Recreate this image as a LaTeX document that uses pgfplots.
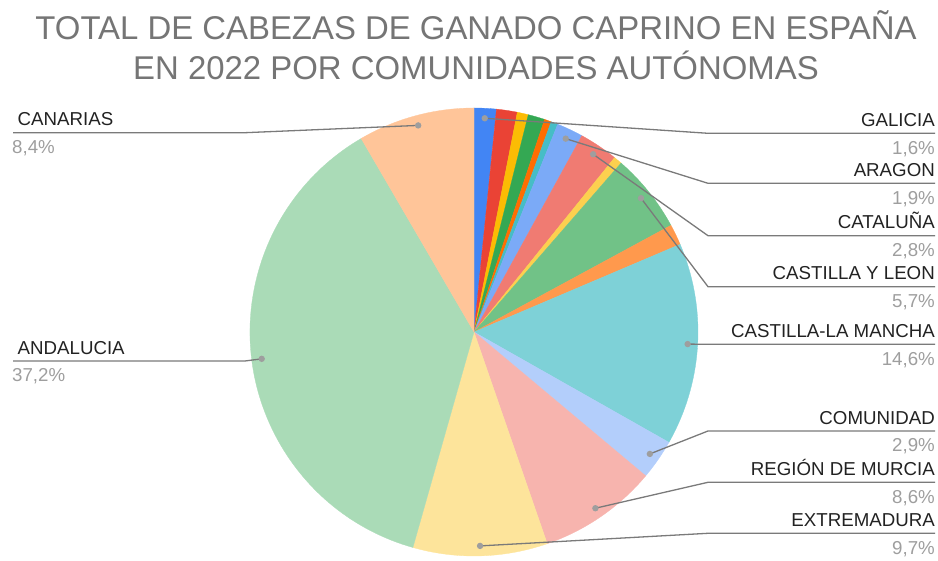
\documentclass[border=0pt]{standalone}
\usepackage{pgfplots}
\pgfplotsset{compat=1.18}
\usepackage{pgfplotstable}
\usepackage{fontspec}
\setmainfont{Liberation Sans}

\definecolor{c1}{HTML}{4285F4}
\definecolor{c2}{HTML}{EA4335}
\definecolor{c3}{HTML}{FBBC04}
\definecolor{c4}{HTML}{34A853}
\definecolor{c5}{HTML}{FF6D01}
\definecolor{c6}{HTML}{46BDC6}
\definecolor{c7}{HTML}{7BAAF7}
\definecolor{c8}{HTML}{F07B72}
\definecolor{c9}{HTML}{FCD04F}
\definecolor{c10}{HTML}{71C287}
\definecolor{c11}{HTML}{FF994D}
\definecolor{c12}{HTML}{7ED1D7}
\definecolor{c13}{HTML}{B3CEFB}
\definecolor{c14}{HTML}{F7B4AE}
\definecolor{c15}{HTML}{FDE49B}
\definecolor{c16}{HTML}{AADBB7}
\definecolor{c17}{HTML}{FFC599}
\definecolor{titlecol}{HTML}{757575}
\definecolor{leadcol}{HTML}{7A7A7A}
\definecolor{dotcol}{HTML}{9E9E9E}
\definecolor{namecol}{HTML}{222222}
\definecolor{pctcol}{HTML}{9E9E9E}

% slices, clockwise from 12 o'clock (percent)
\pgfplotstableread[col sep=comma]{
val,col
1.6,c1
1.5,c2
0.8,c3
1.2,c4
0.5,c5
0.5,c6
1.9,c7
2.8,c8
0.6,c9
5.7,c10
1.5,c11
14.6,c12
2.9,c13
8.6,c14
9.7,c15
37.2,c16
8.4,c17
}\slices

% labelled slices: slice row, name, side (1 right, 0 left), leader line y (px from top)
\pgfplotstableread[col sep=comma]{
slice,name,side,ly
0,GALICIA,1,133.3
6,ARAGON,1,183.3
7,CATALUÑA,1,235.7
9,CASTILLA Y LEON,1,286.7
11,CASTILLA-LA MANCHA,1,344.3
12,COMUNIDAD,1,431
13,REGIÓN DE MURCIA,1,482.3
14,EXTREMADURA,1,533.3
15,ANDALUCIA,0,361
16,CANARIAS,0,132.7
}\labels

\begin{document}
\begin{tikzpicture}
\begin{axis}[
  hide axis, x=1pt, y=1pt,
  xmin=0, xmax=938, ymin=0, ymax=557,
  clip=false, scale only axis,
]
\pgfplotsextra{%
  \path (axis cs:0,0) rectangle (axis cs:938,557);
  \pgfplotstablegetrowsof{\slices}%
  \pgfmathtruncatemacro\nrows{\pgfplotsretval-1}%
  \def\cum{0}\def\tot{0}%
  \pgfplotsforeachungrouped \i in {0,...,\nrows}{%
    \pgfplotstablegetelem{\i}{val}\of\slices
    \pgfmathsetmacro\tot{\tot+\pgfplotsretval}}%
  \pgfplotsforeachungrouped \i in {0,...,\nrows}{%
    \pgfplotstablegetelem{\i}{val}\of\slices \let\slval\pgfplotsretval
    \pgfplotstablegetelem{\i}{col}\of\slices \edef\slcol{\pgfplotsretval}%
    \pgfmathsetmacro\aA{90-(\cum/\tot)*360}%
    \pgfmathsetmacro\cum{\cum+\slval}%
    \pgfmathsetmacro\aB{90-(\cum/\tot)*360}%
    \pgfmathsetmacro\aM{(\aA+\aB)/2}%
    \expandafter\xdef\csname mid\i\endcsname{\aM}%
    \fill[fill=\slcol, draw=\slcol, line width=0.3pt] (axis cs:474,225) -- ++(\aA:224pt)
      arc[start angle=\aA, end angle=\aB, radius=224pt] -- cycle;
  }%
  \pgfplotstablegetrowsof{\labels}%
  \pgfmathtruncatemacro\nlab{\pgfplotsretval-1}%
  \pgfplotsforeachungrouped \j in {0,...,\nlab}{%
    \pgfplotstablegetelem{\j}{slice}\of\labels \edef\ls{\pgfplotsretval}%
    \pgfplotstablegetelem{\j}{name}\of\labels \edef\lname{\pgfplotsretval}%
    \pgfplotstablegetelem{\j}{side}\of\labels \edef\lside{\pgfplotsretval}%
    \pgfplotstablegetelem{\j}{ly}\of\labels \edef\lly{\pgfplotsretval}%
    \pgfplotstablegetelem{\ls}{val}\of\slices \edef\lval{\pgfplotsretval}%
    \edef\lmid{\csname mid\ls\endcsname}%
    \pgfmathsetmacro\Y{557-\lly}%
    \pgfmathsetmacro\Yn{557-\lly+6.7}%
    \pgfmathsetmacro\Yp{557-\lly-21}%
    \ifnum\lside=1
      \draw[leadcol, line width=1.3pt] (axis cs:474,225) ++(\lmid:214pt) -- (axis cs:708,\Y) -- (axis cs:935,\Y);
      \node[anchor=base east, inner sep=0pt, text=namecol, font=\fontsize{18.7}{22}\selectfont] at (axis cs:935,\Yn) {\lname};
      \node[anchor=base east, inner sep=0pt, text=pctcol, font=\fontsize{18.7}{22}\selectfont] at (axis cs:935,\Yp) {\pgfmathprintnumber[fixed, precision=1, fixed zerofill, use comma, assume math mode=true]{\lval}\%};
    \else
      \draw[leadcol, line width=1.3pt] (axis cs:474,225) ++(\lmid:214pt) -- (axis cs:245,\Y) -- (axis cs:13,\Y);
      \node[anchor=base west, inner sep=0pt, text=namecol, font=\fontsize{18.7}{22}\selectfont] at (axis cs:17.5,\Yn) {\lname};
      \node[anchor=base west, inner sep=0pt, text=pctcol, font=\fontsize{18.7}{22}\selectfont] at (axis cs:12,\Yp) {\pgfmathprintnumber[fixed, precision=1, fixed zerofill, use comma, assume math mode=true]{\lval}\%};
    \fi
    \fill[dotcol] (axis cs:474,225) ++(\lmid:214pt) circle[radius=3.2pt];
  }%
  \node[anchor=base, inner sep=0pt, text=titlecol, font=\fontsize{32.9}{38}\selectfont] at (axis cs:476,517.7) {TOTAL DE CABEZAS DE GANADO CAPRINO EN ESPAÑA};
  \node[anchor=base, inner sep=0pt, text=titlecol, font=\fontsize{32.9}{38}\selectfont] at (axis cs:476,477.7) {EN 2022 POR COMUNIDADES AUTÓNOMAS};
}
\end{axis}
\end{tikzpicture}
\end{document}
